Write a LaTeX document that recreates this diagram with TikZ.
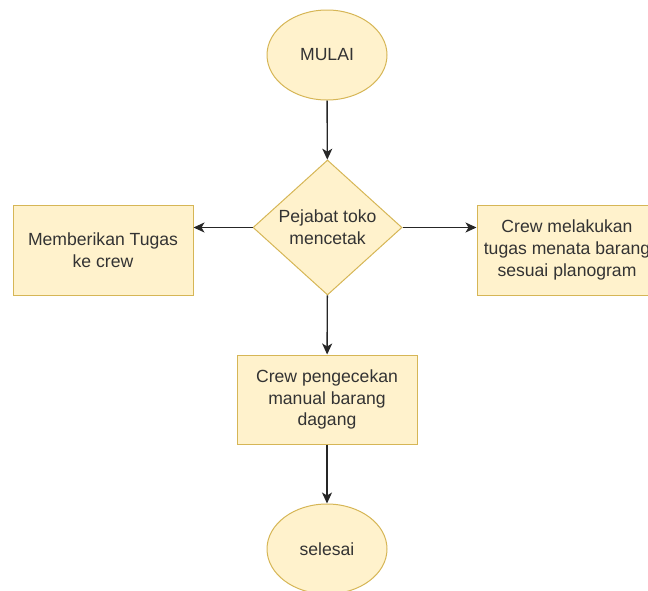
\documentclass[tikz,border=0pt]{standalone}
\usepackage{fontspec}
\setmainfont{Liberation Sans}
\usetikzlibrary{shapes.geometric,arrows.meta}
\definecolor{fillY}{HTML}{FFF2CC}
\definecolor{drawY}{HTML}{D6B656}
\definecolor{txt}{HTML}{333333}
\begin{document}
\begin{tikzpicture}[x=1pt,y=-1pt,
  base/.style={draw=drawY,fill=fillY,line width=1pt,text=txt,align=center,inner sep=0pt,
    font=\fontsize{17.6}{21.6}\selectfont},
  term/.style={base,ellipse,minimum width=120pt,minimum height=90pt},
  proc/.style={base,rectangle,minimum width=180pt,minimum height=90pt},
  dec/.style={base,diamond,aspect=1.1,minimum width=149pt,minimum height=135pt},
  conn/.style={draw=black!85,line width=1.4pt,-{Stealth[length=11pt,width=10pt,inset=3pt]}}]
\useasboundingbox (0,0) rectangle (648,590);
\begin{scope}
\clip (0,0) rectangle (648,590);
\node[term] (start) at (327,55) {MULAI};
\node[dec] (d) at (327.5,227.5) {Pejabat toko\\mencetak};
\node[proc] (l) at (103,250) {Memberikan Tugas\\ke crew};
\node[proc] (r) at (567,250) {Crew melakukan\\tugas menata barang\\sesuai planogram};
\node[proc,minimum height=89pt] (m) at (327,399.5) {Crew pengecekan\\manual barang\\dagang};
\node[term] (end) at (327,549) {selesai};
\draw[conn] (start) -- (d);
\draw[conn] (d.west) -- (d.west -| l.east);
\draw[conn] (d.east) -- (d.east -| r.west);
\draw[conn] (d) -- (m);
\draw[conn] (m) -- (end);
\end{scope}
\end{tikzpicture}
\end{document}
